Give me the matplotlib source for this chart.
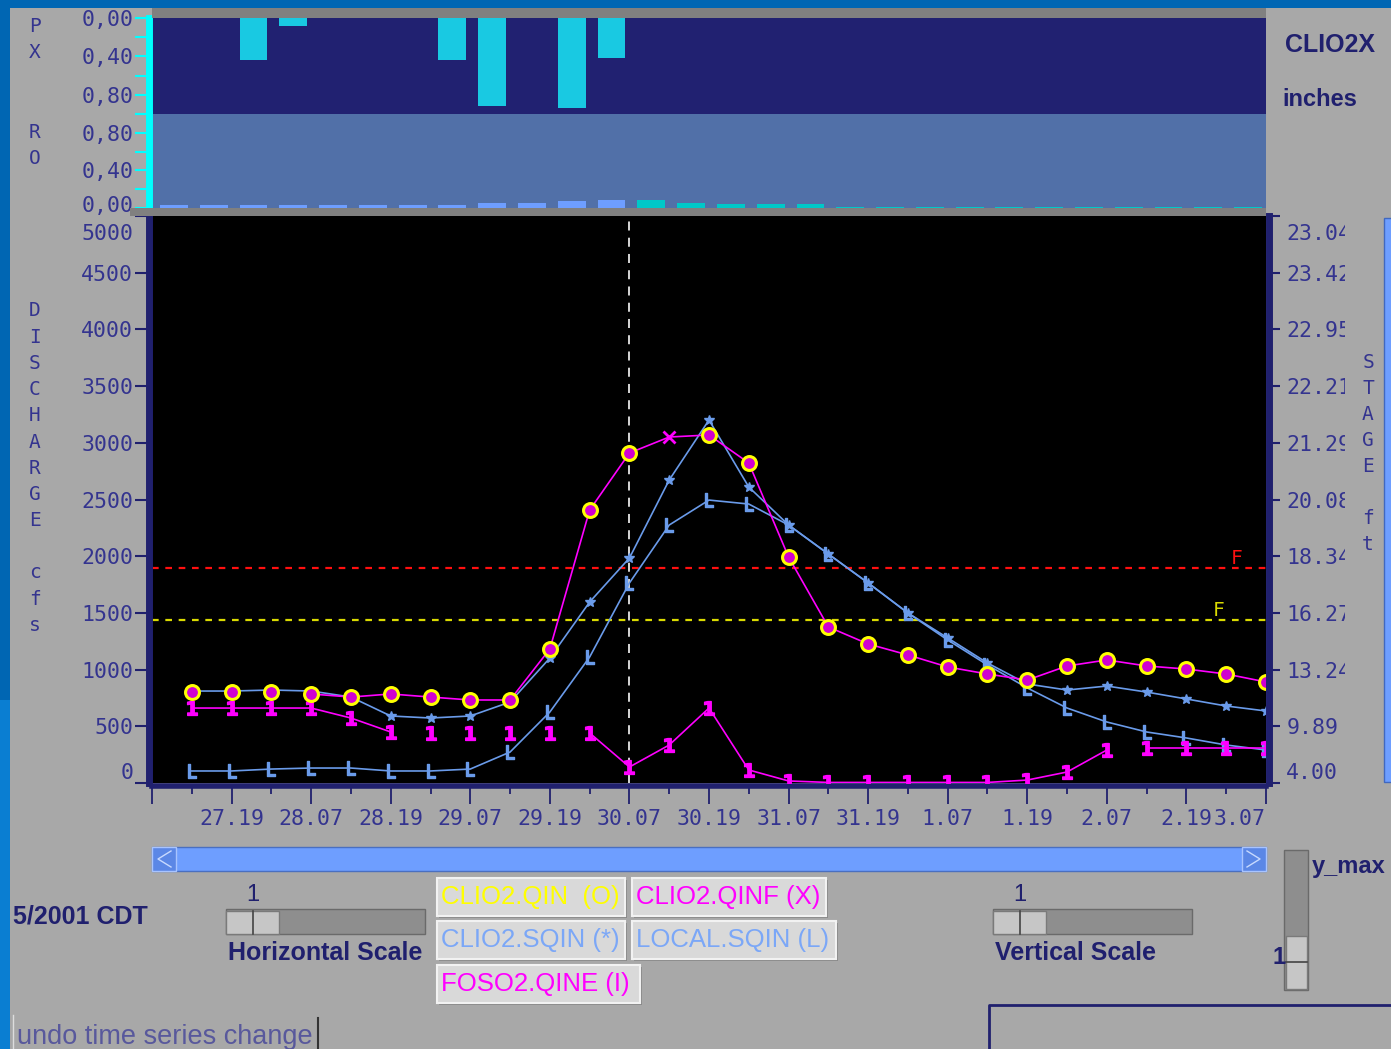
import matplotlib
matplotlib.use("Agg")
import matplotlib.pyplot as plt
from matplotlib.patches import Rectangle
from matplotlib.transforms import ScaledTranslation
import numpy as np

plt.rcParams['font.family'] = ['DejaVu Sans Mono']

W, H = 1391, 1049

# hours after 27th 07 CDT, one value every 6 h
hours = np.arange(6, 169, 6)
x_labels = ["27.19", "28.07", "28.19", "29.07", "29.19", "30.07", "30.19",
            "31.07", "31.19", "1.07", "1.19", "2.07", "2.19", "3.07"]

# discharge in cfs
clio2_qin = [802, 802, 802, 785, 758, 785, 758, 732, 732, 1182, 2407, 2910, np.nan, 3069,
             2822, 1993, 1376, 1226, 1129, 1023, 961, 908, 1032, 1085, 1032, 1005, 961, 891]
clio2_qinf = [np.nan, np.nan, np.nan, 785, 758, 785, 758, 732, 732, 1182, 2407, 2910, 3051, 3069,
              2822, 1993, 1376, 1226, 1129, 1023, 961, 908, 1032, 1085, 1032, 1005, 961, 891]
clio2_sqin = [811, 811, 820, 811, 758, 591, 573, 591, 714, 1102, 1596, 1984, 2672, 3201,
              2610, 2275, 2019, 1764, 1499, 1279, 1058, 873, 820, 855, 802, 741, 679, 635]
local_sqin = [106, 106, 123, 132, 132, 106, 106, 123, 273, 626, 1111, 1764, 2275, 2495,
              2460, 2275, 2019, 1764, 1499, 1261, 1041, 838, 661, 538, 450, 397, 335, 291]
foso2_qine = [661, 661, 661, 661, 573, 450, 441, 441, 441, 441, 441, 141, 335, 661,
              115, 18, 5, 5, 5, 5, 5, 26, 97, 291, 309, 309, 309, 309]
# pieces of the FOSO2 trace that are joined by a line (hours)
qine_runs = [(6, 36), (66, 144), (150, 168)]

# precip and runoff, inches per 6 h block
block_start = np.arange(0, 168, 6)
px_in = [0, 0, 0.44, 0.08, 0, 0, 0, 0.44, 0.92, 0, 0.94, 0.42, 0, 0,
         0, 0, 0, 0, 0, 0, 0, 0, 0, 0, 0, 0, 0, 0]
ro_obs = [0.03, 0.03, 0.03, 0.03, 0.03, 0.03, 0.03, 0.03, 0.05, 0.05, 0.07, 0.09]
ro_fcst = [0.09, 0.05, 0.04, 0.04, 0.04, 0.015, 0.015, 0.015, 0.015, 0.015, 0.015,
           0.015, 0.015, 0.015, 0.015, 0.015]

q_ticks = [0, 500, 1000, 1500, 2000, 2500, 3000, 3500, 4000, 4500, 5000]
stage_labels = ["4.00", "9.89", "13.24", "16.27", "18.34", "20.08", "21.29",
                "22.21", "22.95", "23.42", "23.04"]
flood_q = 1896
action_q = 1437
now_hr = 72

NAVY = '#20206E'
LBL = '#34348F'
BLUE = '#6A9BEA'
MAG = '#FF00FF'
YEL = '#FFFF00'
GUI_FONT = 'Liberation Sans'


def box(x0, y0, x1, y1):
    return [x0 / W, 1 - y1 / H, (x1 - x0) / W, (y1 - y0) / H]


fig = plt.figure(figsize=(W / 100, H / 100), dpi=100, facecolor='#A8A8A8')
down = ScaledTranslation(0, -6 / 72, fig.dpi_scale_trans)
up = ScaledTranslation(0, 3 / 72, fig.dpi_scale_trans)

# ---- precip (PX) and runoff (RO) strip
ax_px = fig.add_axes(box(152, 18, 1266, 114))
ax_ro = fig.add_axes(box(152, 114, 1266, 208))
ax_px.bar(block_start + 1.2, px_in, width=4.2, align='edge', color='#19C9E2')
ax_ro.bar(block_start[:12] + 1.2, ro_obs, width=4.2, align='edge', color='#6E9EFF')
ax_ro.bar(block_start[12:] + 1.2, ro_fcst, width=4.2, align='edge', color='#00C8C8')
ax_px.set_ylim(1.0, 0)
ax_ro.set_ylim(0, 1.0)
for a, fc in ((ax_px, '#212171'), (ax_ro, '#5170A8')):
    a.set_facecolor(fc)
    a.set_xlim(0, 168)
    a.set_xticks([])
    for s in ('top', 'right', 'bottom'):
        a.spines[s].set_visible(False)
    a.spines['left'].set_color('#00FFFF')
    a.spines['left'].set_linewidth(5)
    a.spines['left'].set_position(('outward', 2.5))
    a.set_yticks([0, 0.4, 0.8], ['0,00', '0,40', '0,80'])
    a.set_yticks([0.2, 0.6, 1.0], minor=True)
    a.tick_params(axis='y', which='both', color='#00FFFF', labelcolor=LBL,
                  length=10, width=1.5, labelsize=15.5, pad=1)
ro_zero = ax_ro.get_yticklabels()[0]
ro_zero.set_transform(ro_zero.get_transform() + up)

# ---- hydrograph
ax = fig.add_axes(box(152, 216, 1266, 783))
ax.set_facecolor('black')
ax.axhline(flood_q, color='#FF1010', lw=1.6, ls=(0, (3, 3)), zorder=1)
ax.axhline(action_q, color='#DADA00', lw=1.6, ls=(0, (3, 3)), zorder=1)
ax.axvline(now_hr, color='#E8E8E8', lw=1.3, ls=(0, (5, 4)), zorder=1)
ax.text(163.6, flood_q, 'F', color='#FF1010', ha='center', va='bottom', fontsize=14)
ax.text(160.8, action_q, 'F', color='#DADA00', ha='center', va='bottom', fontsize=14)

ax.plot(hours, local_sqin, color=BLUE, lw=1.2, marker=r'$\mathrm{L}$', ms=10, zorder=3)
ax.plot(hours, clio2_sqin, color=BLUE, lw=1.2, marker='*', ms=7, zorder=3)
qine = np.array(foso2_qine, dtype=float)
for a, b in qine_runs:
    m = (hours >= a) & (hours <= b)
    ax.plot(hours[m], qine[m], color=MAG, lw=1.2, zorder=4)
ax.plot(hours, qine, ls='none', marker=r'$\mathbf{1}$', ms=10, color=MAG, zorder=4)
ax.plot(hours, clio2_qinf, color=MAG, lw=1.2, marker='x', markevery=[12],
        ms=9, mew=2, zorder=5)
ax.plot(hours, clio2_qin, ls='none', marker='o', ms=10, mfc='#D000D0', mec=YEL,
        mew=2.2, zorder=6)

ax.set_xlim(0, 168)
ax.set_ylim(0, 5000)
ax.spines['top'].set_visible(False)
ax.spines['right'].set_visible(False)
ax.spines['left'].set_color(NAVY)
ax.spines['left'].set_linewidth(5)
ax.spines['left'].set_position(('outward', 2.5))
ax.spines['bottom'].set_color(NAVY)
ax.spines['bottom'].set_linewidth(4)
ax.spines['bottom'].set_position(('outward', 2))

ax.set_yticks(q_ticks, [str(q) for q in q_ticks])
ax.tick_params(axis='y', color=NAVY, labelcolor=LBL, length=10, width=1.5,
               labelsize=15.5, pad=1)
ylab = ax.get_yticklabels()
ylab[0].set_va('bottom')
ylab[-1].set_va('top')
ylab[-1].set_transform(ylab[-1].get_transform() + down)

ax.set_xticks(np.arange(0, 169, 12), [''] + x_labels)
ax.set_xticks(np.arange(6, 169, 12), minor=True)
ax.tick_params(axis='x', which='major', color=NAVY, labelcolor=LBL, length=13,
               width=1.3, labelsize=15.5, pad=4)
ax.tick_params(axis='x', which='minor', color=NAVY, length=6, width=1.3)
ax.get_xticklabels()[-1].set_ha('right')

ax2 = ax.twinx()
ax2.set_ylim(0, 5000)
for s in ('top', 'left', 'bottom'):
    ax2.spines[s].set_visible(False)
ax2.spines['right'].set_color(NAVY)
ax2.spines['right'].set_linewidth(5)
ax2.spines['right'].set_position(('outward', 2.5))
ax2.set_yticks(q_ticks, stage_labels)
ax2.tick_params(axis='y', color=NAVY, labelcolor=LBL, length=8, width=1.5,
                labelsize=15.5, pad=4)
rlab = ax2.get_yticklabels()
rlab[0].set_va('bottom')
rlab[-1].set_va('top')
rlab[-1].set_transform(rlab[-1].get_transform() + down)

# ---- window furniture, drawn in pixel coordinates
gui = fig.add_axes([0, 0, 1, 1], zorder=10)
gui.set_xlim(0, W)
gui.set_ylim(H, 0)
gui.set_autoscale_on(False)
gui.axis('off')


def rect(x0, y0, x1, y1, fc, ec='none', lw=0):
    gui.add_patch(Rectangle((x0, y0), x1 - x0, y1 - y0, facecolor=fc,
                            edgecolor=ec, linewidth=lw))


rect(0, 0, W, 8, '#0066B3')
rect(0, 0, 10, 700, '#0066B3')
rect(0, 700, 10, H, '#0A7ED2')
rect(152, 8, 1266, 18, '#808080')
rect(130, 208, 1266, 216, '#808080')
# the stage labels are cut off by the window edge
rect(1345, 216, 1384, 792, '#A8A8A8')
rect(1384, 218, W + 2, 782, '#6E9EFF', '#4068C0', 1)

for i, ch in enumerate("DISCHARGE cfs"):
    gui.text(35, 311 + 26.2 * i, ch, ha='center', va='center', color=LBL, fontsize=14)
for i, ch in enumerate("STAGE ft"):
    gui.text(1368, 363 + 26 * i, ch, ha='center', va='center', color=LBL, fontsize=14)
for ch, yy in (('P', 27), ('X', 53), ('R', 132), ('O', 158)):
    gui.text(35, yy, ch, ha='center', va='center', color=LBL, fontsize=14)

bold = dict(family=GUI_FONT, fontweight='bold', color=NAVY, va='center')
gui.text(1330, 45, 'CLIO2X', ha='center', fontsize=18, **bold)
gui.text(1320, 99, 'inches', ha='center', fontsize=17, **bold)
gui.text(13, 916, '5/2001 CDT', ha='left', fontsize=18, **bold)

# horizontal scroll bar
rect(152, 847, 1266, 871, '#6E9EFF', '#4A6FC0', 1)
rect(152, 847, 176, 871, '#5B87E6', '#A8C4FF', 1)
rect(1242, 847, 1266, 871, '#5B87E6', '#A8C4FF', 1)
gui.plot([171, 158, 171], [851, 859, 867], color='#C8DAFF', lw=1)
gui.plot([1247, 1260, 1247], [851, 859, 867], color='#C8DAFF', lw=1)


def slider(x0, label):
    rect(x0, 909, x0 + 199, 934, '#8E8E8E', '#6A6A6A', 1)
    rect(x0, 911, x0 + 53, 934, '#C6C6C6', '#7A7A7A', 1)
    gui.plot([x0 + 27, x0 + 27], [911, 934], color='#444444', lw=1.2)
    gui.text(x0 + 27, 895, '1', ha='center', va='center', family=GUI_FONT,
             fontsize=17, color=NAVY)
    gui.text(x0 + 2, 953, label, ha='left', fontsize=18, **bold)


slider(226, 'Horizontal Scale')
slider(993, 'Vertical Scale')

# y_max slider
rect(1284, 850, 1308, 990, '#8E8E8E', '#6A6A6A', 1)
rect(1286, 936, 1307, 989, '#C6C6C6', '#7A7A7A', 1)
gui.plot([1286, 1307], [962, 962], color='#444444', lw=1.2)
gui.text(1312, 867, 'y_max', ha='left', fontsize=17, **bold)
gui.text(1279, 958, '1', ha='center', fontsize=17, **bold)

# series buttons
buttons = [
    (437, 878, 625, 916, 'CLIO2.QIN  (O)', YEL),
    (632, 878, 826, 916, 'CLIO2.QINF (X)', MAG),
    (437, 921, 625, 959, 'CLIO2.SQIN (*)', '#7BA7F7'),
    (632, 921, 836, 959, 'LOCAL.SQIN (L)', '#7BA7F7'),
    (437, 965, 640, 1003, 'FOSO2.QINE (I)', MAG),
]
for x0, y0, x1, y1, txt, col in buttons:
    rect(x0 + 2, y0 + 2, x1 + 2, y1 + 2, '#8A8A8A')
    rect(x0, y0, x1, y1, '#D9D9D9', '#F2F2F2', 1.5)
    gui.text(x0 + 4, (y0 + y1) / 2, txt, ha='left', va='center', family=GUI_FONT,
             fontsize=18.5, color=col)

gui.plot([989, 989, W], [H, 1005, 1005], color=NAVY, lw=2)
gui.plot([12.5, 12.5], [1015, H], color='#DDDDDD', lw=1)
gui.plot([318, 318], [1018, H], color='#333333', lw=1.5)
gui.text(17, 1037, 'undo time series change', ha='left', va='center', family=GUI_FONT,
         fontsize=19.5, color='#4A4A9A', alpha=0.85)

fig.savefig('out.png', dpi=100, facecolor=fig.get_facecolor())
